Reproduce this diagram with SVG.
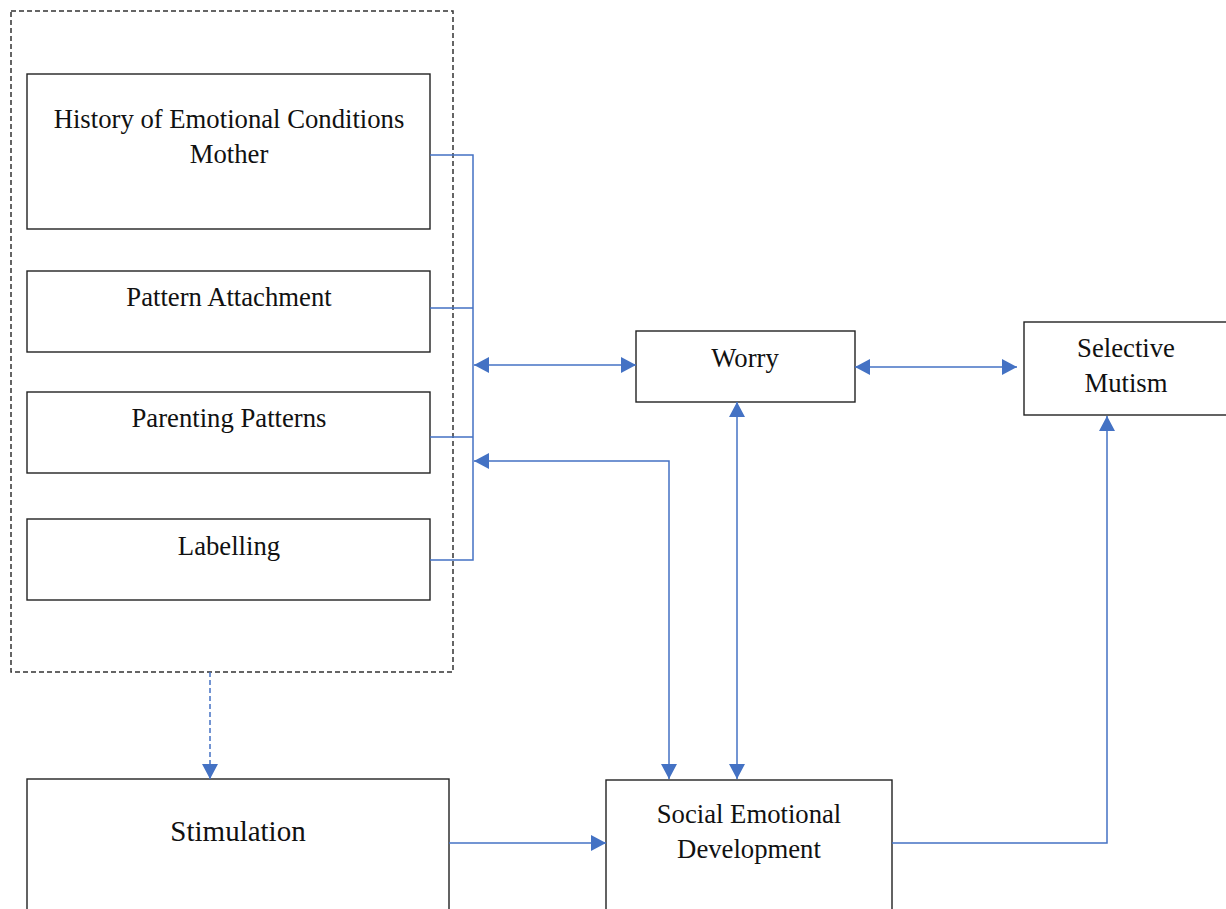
<svg xmlns="http://www.w3.org/2000/svg" width="1226" height="909" viewBox="0 0 1226 909">
<style>
.box{fill:#fff;stroke:#222;stroke-width:1.4}
.dash{fill:none;stroke:#333;stroke-width:1.5;stroke-dasharray:5 3}
.t{font-family:"Liberation Serif","Times New Roman",serif;font-size:26.7px;fill:#111;text-anchor:middle}
.big{font-size:29px}
.c{fill:none;stroke:#4472C4;stroke-width:1.5}
.cd{fill:none;stroke:#4472C4;stroke-width:1.5;stroke-dasharray:5 3}
</style>
<defs>
<marker id="ah" markerUnits="userSpaceOnUse" markerWidth="18" markerHeight="18" refX="15" refY="8" orient="auto-start-reverse">
<path d="M0,0 L15,8 L0,16 z" fill="#4472C4"/>
</marker>
</defs>
<rect width="1226" height="909" fill="#fff"/>
<g id="group-box">
<rect class="dash" x="11" y="11" width="442" height="661"/>
</g>
<g id="history">
<rect class="box" x="27" y="74" width="403" height="155"/>
<text class="t" x="229" y="128">History of Emotional Conditions</text>
<text class="t" x="229" y="163">Mother</text>
</g>
<g id="attachment">
<rect class="box" x="27" y="271" width="403" height="81"/>
<text class="t" x="229" y="306">Pattern Attachment</text>
</g>
<g id="parenting">
<rect class="box" x="27" y="392" width="403" height="81"/>
<text class="t" x="229" y="427">Parenting Patterns</text>
</g>
<g id="labelling">
<rect class="box" x="27" y="519" width="403" height="81"/>
<text class="t" x="229" y="555">Labelling</text>
</g>
<g id="worry">
<rect class="box" x="636" y="331" width="219" height="71"/>
<text class="t" x="745" y="367">Worry</text>
</g>
<g id="mutism">
<rect class="box" x="1024" y="322" width="210" height="93"/>
<text class="t" x="1126" y="357">Selective</text>
<text class="t" x="1126" y="392">Mutism</text>
</g>
<g id="stimulation">
<rect class="box" x="27" y="779" width="422" height="140"/>
<text class="t big" x="238" y="841">Stimulation</text>
</g>
<g id="sed">
<rect class="box" x="606" y="780" width="286" height="140"/>
<text class="t" x="749" y="823">Social Emotional</text>
<text class="t" x="749" y="858">Development</text>
</g>
<g id="connectors">
<path class="c" d="M430,155 H473 V560 H430 M430,308 H473 M430,437 H473"/>
<path class="c" d="M474,365 H636" marker-start="url(#ah)" marker-end="url(#ah)"/>
<path class="c" d="M474,461 H669 V779" marker-start="url(#ah)" marker-end="url(#ah)"/>
<path class="c" d="M737,402 V779" marker-start="url(#ah)" marker-end="url(#ah)"/>
<path class="c" d="M855,367 H1017" marker-start="url(#ah)" marker-end="url(#ah)"/>
<path class="c" d="M449,843 H606" marker-end="url(#ah)"/>
<path class="c" d="M892,843 H1107 V416" marker-end="url(#ah)"/>
<path class="cd" d="M210,672 V779" marker-end="url(#ah)"/>
</g>
</svg>
